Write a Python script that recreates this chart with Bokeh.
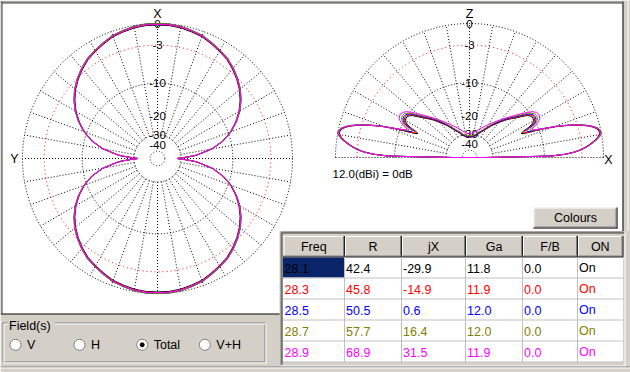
import numpy as np
from bokeh.plotting import figure
from bokeh.models import Range1d
from bokeh.embed import file_html
from bokeh.resources import INLINE
from bokeh.core.properties import value

# ---------------- data ----------------
FREQ = ["28.1", "28.3", "28.5", "28.7", "28.9"]
R_OHM = ["42.4", "45.8", "50.5", "57.7", "68.9"]
JX_OHM = ["-29.9", "-14.9", "0.6", "16.4", "31.5"]
GA_DBI = [11.8, 11.9, 12.0, 12.0, 11.9]
FB_DB = ["0.0", "0.0", "0.0", "0.0", "0.0"]
ON_STATE = ["On", "On", "On", "On", "On"]
SERIES_COLORS = ["#000000", "#ff0000", "#0000ff", "#808000", "#ff00ff"]
TABLE_HEADERS = ["Freq", "R", "jX", "Ga", "F/B", "ON"]
REF_DBI = 12.0
REF_TEXT = "12.0(dBi) = 0dB"
RING_LABELS = ["0", "-3", "-10", "-20", "-30", "-40"]
RING_LABEL_DB = [0, -3, -10, -20, -30, -40]
RING_DB = [0, -10, -30, -50]
RED_RING_DB = -3
FIELD_OPTIONS = ["V", "H", "Total", "V+H"]
FIELD_SELECTED = "Total"

# azimuth pattern (one quadrant, angle from X axis, dB rel. own max)
AZ_ANG = [0, 5, 10, 15, 20, 25, 30, 35, 40, 45, 50, 55, 60, 65, 70, 75, 80, 85, 86, 87, 88, 89, 90]
AZ_DB = [0.0, 0.0, -0.1, -0.3, -0.5, -0.9, -1.3, -1.7, -2.3, -3.0, -3.8, -4.8, -6.0, -7.5,
         -9.3, -11.7, -15.2, -21.0, -23.0, -25.5, -28.0, -31.0, -33.0]

# elevation pattern (elevation angle in degrees, dB rel. own max)
EL_ANG = [0, 1, 2, 3, 4, 5, 6, 7, 8, 9, 10, 11, 12, 13, 14, 15, 16, 17, 18, 19, 20, 21,
          22, 23, 24, 25, 26, 27, 28, 29, 30, 32, 34, 36, 38, 40, 43, 46, 50, 55, 60, 65,
          70, 75, 80, 85, 90]
EL_MAIN = [-36, -8.5, -5.5, -4.0, -3.0, -2.3, -1.7, -1.2, -0.7, -0.35, -0.1, 0.0, -0.1,
           -0.35, -0.8, -1.4, -2.2, -3.1, -4.2, -5.4, -6.8, -8.4]
EL_HIGH_281 = [-10.4, -12.5, -14.0, -14.5, -13.5, -11.8, -10.8, -10.3, -10.0, -9.8, -10.0,
               -10.6, -11.8, -13.0, -14.5, -16.0, -18.3, -21.0, -24.0, -26.5, -28.5, -30.5,
               -31.5, -32.0, -32.0]
EL_HIGH_283 = [-10.2, -12.0, -13.5, -13.8, -12.8, -11.3, -10.5, -10.0, -9.8, -9.6, -9.8,
               -10.4, -11.5, -12.8, -14.3, -15.8, -18.0, -20.8, -23.8, -26.3, -28.3, -30.3,
               -31.3, -31.8, -31.8]
EL_HIGH_285 = [-10.0, -11.6, -12.8, -13.0, -12.0, -10.8, -10.2, -9.8, -9.6, -9.4, -9.6,
               -10.2, -11.3, -12.6, -14.1, -15.6, -17.8, -20.6, -23.6, -26.1, -28.1, -30.1,
               -31.1, -31.6, -31.6]
EL_HIGH_287 = [-9.8, -11.2, -12.0, -11.8, -11.0, -10.3, -9.8, -9.4, -9.2, -9.0, -9.2,
               -9.8, -10.9, -12.2, -13.7, -15.2, -17.3, -20.0, -23.0, -25.5, -27.5, -29.5,
               -30.5, -31.0, -31.0]
EL_HIGH_289 = [-9.6, -10.8, -11.4, -11.0, -10.2, -9.5, -9.0, -8.7, -8.5, -8.4, -8.6,
               -9.2, -10.2, -11.5, -13.2, -14.9, -16.9, -19.3, -21.5, -23.5, -25.3, -27.1,
               -28.5, -29.3, -29.7]
EL_HIGH = [EL_HIGH_281, EL_HIGH_283, EL_HIGH_285, EL_HIGH_287, EL_HIGH_289]

# ---------------- layout (screen pixels of the window) ----------------
AZ_CX, AZ_CY, AZ_R = 157.0, 158.0, 135.0
EL_CX, EL_CY, EL_R = 469.0, 157.0, 134.0
GRAY = "#d4d0c8"
DARK = "#808080"
FONT = value("Liberation Sans")
W, H = 630, 372


def rad(db, R):
    return R * 0.89 ** (-np.asarray(db, dtype=float) / 2.0)


p = figure(width=W, height=H, x_range=Range1d(0, W), y_range=Range1d(H, 0),
           output_backend="svg", toolbar_location=None, min_border=0,
           x_axis_location=None, y_axis_location=None)
p.grid.visible = False
p.outline_line_color = None
p.background_fill_color = "white"
p.border_fill_color = "white"

dot = "1 2"

# ---------- window frame ----------
p.quad(left=622, right=630, top=0, bottom=H, fill_color=GRAY, line_color=None)
p.quad(left=0, right=630, top=0, bottom=2, fill_color=GRAY, line_color=None)
p.segment(x0=[0.5, 1.5, 622.5], y0=[0, 1, 1], x1=[0.5, 1.5, 622.5], y1=[313, 313, 232],
          line_color=[DARK, "#404040", "black"])
p.segment(x0=[0, 1], y0=[1.5, 2.5], x1=[622, 622], y1=[1.5, 2.5],
          line_color=[DARK, "#404040"])
p.segment(x0=[627.5], y0=[0], x1=[627.5], y1=[H], line_color="white")

# ---------- azimuth grid ----------
t = np.linspace(0, 2 * np.pi, 721)
for db in RING_DB:
    r = float(rad(db, AZ_R))
    p.line(AZ_CX + r * np.cos(t), AZ_CY + r * np.sin(t), line_color="black",
           line_dash=dot, line_width=1)
r = float(rad(RED_RING_DB, AZ_R))
p.line(AZ_CX + r * np.cos(t), AZ_CY + r * np.sin(t), line_color="red",
       line_dash="1 3", line_width=1)
r_in = float(rad(-30, AZ_R))
for a in range(0, 360, 10):
    ar = np.radians(a)
    p.line([AZ_CX + r_in * np.cos(ar), AZ_CX + AZ_R * np.cos(ar)],
           [AZ_CY + r_in * np.sin(ar), AZ_CY + AZ_R * np.sin(ar)],
           line_color="black", line_dash=dot, line_width=1)

# ---------- elevation grid ----------
th = np.linspace(0, np.pi, 361)
for db in RING_DB:
    r = float(rad(db, EL_R))
    p.line(EL_CX + r * np.cos(th), EL_CY - r * np.sin(th), line_color="black",
           line_dash=dot, line_width=1)
r = float(rad(RED_RING_DB, EL_R))
p.line(EL_CX + r * np.cos(th), EL_CY - r * np.sin(th), line_color="red",
       line_dash="1 3", line_width=1)
p.line([EL_CX - EL_R, EL_CX + EL_R], [EL_CY, EL_CY], line_color="black",
       line_dash=dot, line_width=1)
r_in = float(rad(-30, EL_R))
for a in range(10, 180, 10):
    ar = np.radians(a)
    p.line([EL_CX + r_in * np.cos(ar), EL_CX + EL_R * np.cos(ar)],
           [EL_CY - r_in * np.sin(ar), EL_CY - EL_R * np.sin(ar)],
           line_color="black", line_dash=dot, line_width=1)

# ---------- ring labels ----------
for cx, cy, R in [(AZ_CX, AZ_CY, AZ_R), (EL_CX, EL_CY, EL_R)]:
    ys = [cy - float(rad(d, R)) for d in RING_LABEL_DB]
    p.text(x=[cx] * len(ys), y=ys, text=RING_LABELS, text_font=FONT,
           text_font_size="11.5px", text_align="center", text_baseline="middle",
           text_color="black")
p.text(x=[AZ_CX, 14, EL_CX, 608], y=[13.5, 158.5, 13.5, 159.5], text=["X", "Y", "Z", "X"],
       text_font=FONT, text_font_size="12.5px", text_align="center",
       text_baseline="middle", text_color="black")
p.text(x=[332], y=[173.5], text=[REF_TEXT], text_font=FONT, text_font_size="11.5px",
       text_align="left", text_baseline="middle", text_color="black")

# ---------- azimuth patterns ----------
az_a = np.array(AZ_ANG, dtype=float)
az_d = np.array(AZ_DB, dtype=float)
phi = np.concatenate([az_a, 180 - az_a[::-1], 180 + az_a, 360 - az_a[::-1]])
pd_ = np.concatenate([az_d, az_d[::-1], az_d, az_d[::-1]])
for col, ga in zip(SERIES_COLORS, GA_DBI):
    r = rad(pd_ + (ga - REF_DBI), AZ_R)
    pr = np.radians(phi)
    p.line(AZ_CX + r * np.sin(pr), AZ_CY - r * np.cos(pr), line_color=col, line_width=1)

# ---------- elevation patterns ----------
el_a = np.radians(np.array(EL_ANG, dtype=float))
for col, ga, high in zip(SERIES_COLORS, GA_DBI, EL_HIGH):
    d = np.array(EL_MAIN + high, dtype=float) + (ga - REF_DBI)
    r = rad(d, EL_R)
    xl = EL_CX - r * np.cos(el_a)
    yl = EL_CY - r * np.sin(el_a)
    xr = EL_CX + r * np.cos(el_a)
    xs = np.concatenate([xl, xr[::-1], xl[:1]])
    ys = np.concatenate([yl, yl[::-1], yl[:1]])
    p.line(xs, ys, line_color=col, line_width=1)

# ---------- dialog chrome ----------
p.quad(left=0, right=281, top=313.5, bottom=H, fill_color=GRAY, line_color=None)
p.segment(x0=[0], y0=[313.5], x1=[281], y1=[313.5], line_color="black", line_width=1)

# table block
p.quad(left=279, right=630, top=230.5, bottom=H, fill_color=GRAY, line_color=None)
p.segment(x0=[280.5, 280.5], y0=[231.5, 231.5], x1=[624, 280.5], y1=[231.5, 365],
          line_color=DARK, line_width=1)
p.segment(x0=[281.5, 281.5], y0=[232.5, 232.5], x1=[624, 281.5], y1=[232.5, 364],
          line_color="#404040", line_width=1)
p.segment(x0=[624.5, 280], y0=[231, 365.5], x1=[624.5, 625], y1=[366, 365.5],
          line_color="white", line_width=1)
COL_X = [282.5, 344, 401, 465, 522, 577, 622.5]
ROW_Y = [256.5, 277.5, 298.5, 319.5, 340.5, 361.5]
HEAD_TOP = 235.5
p.quad(left=COL_X[0], right=COL_X[-1], top=HEAD_TOP, bottom=ROW_Y[-1],
       fill_color="white", line_color=None)
p.quad(left=COL_X[0], right=COL_X[-1], top=HEAD_TOP, bottom=ROW_Y[0],
       fill_color=GRAY, line_color=None)
# header bevels
p.segment(x0=[x + 1 for x in COL_X[:-1]], y0=[HEAD_TOP + 0.5] * 6,
          x1=[x + 1 for x in COL_X[:-1]], y1=[ROW_Y[0] - 1] * 6, line_color="white")
p.segment(x0=COL_X[:-1], y0=[HEAD_TOP + 0.5] * 6, x1=COL_X[1:], y1=[HEAD_TOP + 0.5] * 6,
          line_color="white")
p.segment(x0=[x - 1 for x in COL_X[1:]], y0=[HEAD_TOP] * 6,
          x1=[x - 1 for x in COL_X[1:]], y1=[ROW_Y[0]] * 6, line_color=DARK)
p.segment(x0=COL_X[1:], y0=[HEAD_TOP] * 6, x1=COL_X[1:], y1=[ROW_Y[0]] * 6,
          line_color="#202020")
p.segment(x0=[COL_X[0]], y0=[ROW_Y[0] - 1], x1=[COL_X[-1]], y1=[ROW_Y[0] - 1],
          line_color=DARK)
p.segment(x0=[COL_X[0]], y0=[ROW_Y[0]], x1=[COL_X[-1]], y1=[ROW_Y[0]],
          line_color="#202020")
# selected cell
p.quad(left=COL_X[0], right=COL_X[1], top=ROW_Y[0] + 0.5, bottom=ROW_Y[1] - 0.5,
       fill_color="#0a246a", line_color=None)
# body grid
p.segment(x0=[COL_X[0]] * 5, y0=ROW_Y[1:], x1=[COL_X[-1]] * 5, y1=ROW_Y[1:],
          line_color="#c0c0c0")
p.segment(x0=COL_X[1:-1], y0=[ROW_Y[0]] * 5, x1=COL_X[1:-1], y1=[ROW_Y[-1]] * 5,
          line_color="#c0c0c0")
# header text
p.text(x=[(a + b) / 2 for a, b in zip(COL_X[:-1], COL_X[1:])], y=[246.5] * 6,
       text=TABLE_HEADERS, text_font=FONT, text_font_size="12.5px",
       text_align="center", text_baseline="middle", text_color="black")
# body text
columns = [FREQ, R_OHM, JX_OHM, [f"{g:.1f}" for g in GA_DBI], FB_DB, ON_STATE]
for ci, colvals in enumerate(columns):
    ys = [(a + b) / 2 + 0.5 for a, b in zip(ROW_Y[:-1], ROW_Y[1:])]
    p.text(x=[COL_X[ci] + 1.5] * 5, y=ys, text=colvals, text_font=FONT,
           text_font_size="12.5px", text_align="left", text_baseline="middle",
           text_color=SERIES_COLORS)

# Colours button
p.quad(left=533, right=617, top=207, bottom=228, fill_color=GRAY, line_color=None)
p.segment(x0=[533.5, 533.5], y0=[207.5, 207.5], x1=[616, 533.5], y1=[207.5, 227],
          line_color="white")
p.segment(x0=[533, 616.5], y0=[227.5, 207], x1=[617, 616.5], y1=[227.5, 228],
          line_color="black")
p.segment(x0=[534, 615.5], y0=[226.5, 208], x1=[616, 615.5], y1=[226.5, 227],
          line_color=DARK)
p.text(x=[575], y=[217.5], text=["Colours"], text_font=FONT, text_font_size="12.5px",
       text_align="center", text_baseline="middle", text_color="black")

# Field(s) group box
gx0, gx1, gy0, gy1 = 2.5, 264.5, 322.5, 361.5
p.line([gx0, gx1, gx1, gx0, gx0], [gy0, gy0, gy1, gy1, gy0], line_color=DARK)
p.line([gx0 + 1, gx1 + 1, gx1 + 1, gx0 + 1, gx0 + 1],
       [gy0 + 1, gy0 + 1, gy1 + 1, gy1 + 1, gy0 + 1], line_color="white")
p.quad(left=7, right=54, top=317, bottom=330, fill_color=GRAY, line_color=None)
p.text(x=[8.5], y=[325], text=["Field(s)"], text_font=FONT, text_font_size="12.5px",
       text_align="left", text_baseline="middle", text_color="black")
RADIO_X = [15, 79, 141.7, 204.3]
p.scatter(x=RADIO_X, y=[344.3] * 4, marker="circle", size=11, fill_color="white",
          line_color=DARK, line_width=1)
sel = FIELD_OPTIONS.index(FIELD_SELECTED)
p.scatter(x=[RADIO_X[sel]], y=[344.3], marker="circle", size=4, fill_color="black",
          line_color="black")
p.text(x=[x + 11.5 for x in RADIO_X], y=[344.5] * 4, text=FIELD_OPTIONS, text_font=FONT,
       text_font_size="12.5px", text_align="left", text_baseline="middle",
       text_color="black")
# bottom edge of dialog
p.segment(x0=[0, 0], y0=[366.5, 367.5], x1=[630, 630], y1=[366.5, 367.5],
          line_color=[DARK, "white"])

open("out.html", "w").write(file_html(p, INLINE))
